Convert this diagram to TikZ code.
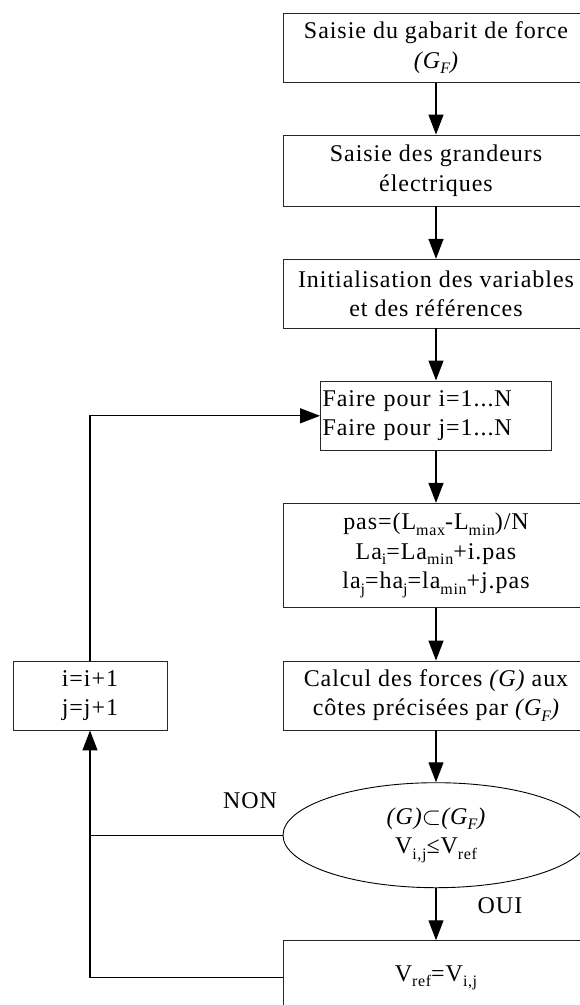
\documentclass[tikz,border=0pt]{standalone}
\usepackage{fontspec}
\setmainfont{Liberation Serif}[LetterSpace=4]
\usetikzlibrary{arrows.meta,shapes.geometric}
\newcommand{\lowsub}[1]{\raisebox{-5.5pt}{\fontsize{16}{16}\selectfont #1}}
\begin{document}
\begin{tikzpicture}[x=1pt,y=-1pt,
  every node/.style={font=\fontsize{24}{29.5}\selectfont, inner sep=0pt},
  box/.style={draw=black!85, line width=0.9pt, align=center, minimum width=306pt},
  conn/.style={line width=1.3pt, draw=black},
  arr/.style={conn, -{Triangle[length=20pt,width=15pt]}}]
\useasboundingbox (0,0) rectangle (579,1005);
\node[box, minimum height=69.4pt] (b1) at (436,48) {Saisie du gabarit de force\\{\itshape (G\lowsub{F})}};
\node[box, minimum height=71pt] (b2) at (436,170.5) {Saisie des grandeurs\\électriques};
\node[box, minimum height=68.7pt] (b3) at (436,293.6) {Initialisation des variables\\et des références};
\node[box, minimum height=69.7pt, minimum width=231pt, align=left, text width=227pt, inner xsep=2pt] (b4) at (436,415.8) {Faire pour i=1...N\\Faire pour j=1...N};
\node[box, minimum height=104.4pt] (b5) at (436,555.5) {pas=(L\lowsub{max}-L\lowsub{min})/N\\La\lowsub{i}=La\lowsub{min}+i.pas\\la\lowsub{j}=ha\lowsub{j}=la\lowsub{min}+j.pas};
\node[box, minimum height=69pt] (b6) at (436,695.5) {Calcul des forces {\itshape (G)} aux\\côtes précisées par {\itshape (G\lowsub{F})}};
\node[box, minimum height=69pt, minimum width=154pt] (inc) at (90,695.5) {i=i+1\\j=j+1};
\node[draw=black, line width=0.9pt, ellipse, minimum width=306pt, minimum height=105pt, align=center] (ell) at (436,835.2) {{\itshape (G)}$\subset${\itshape (G\lowsub{F})}\\V\lowsub{i,j}≤V\lowsub{ref}};
\node[box, minimum height=74pt] (vref) at (436,977.7) {V\lowsub{ref}=V\lowsub{i,j}};
\node (non) at (250,801) {NON};
\node (oui) at (500,906) {OUI};
\draw[arr] (b1) -- (b2);
\draw[arr] (b2) -- (b3);
\draw[arr] (b3) -- (b4);
\draw[arr] (b4) -- (b5);
\draw[arr] (b5) -- (b6);
\draw[arr] (b6) -- (ell);
\draw[arr] (ell) -- (vref);
\draw[conn] (ell.west) -- (inc.south |- ell.west);
\draw[arr] (vref.west) -| (inc.south);
\draw[arr] (inc.north) |- (b4.west);
\end{tikzpicture}
\end{document}
